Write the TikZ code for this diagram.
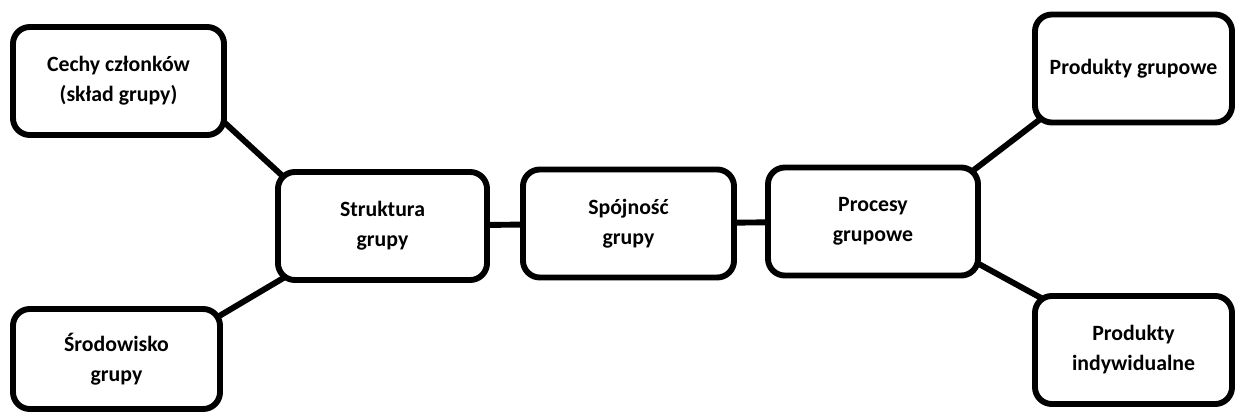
\documentclass[tikz,border=0pt]{standalone}
\usepackage{fontspec}
\setmainfont{Carlito}
\usetikzlibrary{backgrounds}
\tikzset{
    box/.style={draw, line width=4.2pt, rounded corners=12pt, fill=white, align=center,
        minimum width=5.25cm, minimum height=2.7cm,
        font=\bfseries\fontsize{15.5}{21.3}\selectfont},
    link/.style={line width=4.2pt, shorten <=-8pt, shorten >=-8pt}
}
\begin{document}
\begin{tikzpicture}[x=0.025cm, y=-0.025cm]
    \useasboundingbox (0,0) rectangle (1236,414);
    % lewa strona
        \node[box, minimum width=5.275cm] (cechy) at (118.5,81) {Cechy członków\\(skład grupy)};
        \node[box, minimum width=5.175cm, minimum height=2.5cm] (srod) at (116.5,359) {Środowisko\\grupy};
    % srodek
        \node[box, minimum width=5.225cm] (strukt) at (382.5,226) {Struktura\\grupy};
        \node[box, minimum width=5.275cm] (spoj) at (628.5,223.5) {Spójność\\grupy};
        \node[box] (proc) at (873,221.5) {Procesy\\grupowe};
    % prawa strona
        \node[box, minimum width=4.925cm] (prodg) at (1133.5,68.5) {Produkty grupowe};
        \node[box, minimum width=4.925cm] (prodi) at (1133.5,350) {Produkty\\indywidualne};
    \begin{scope}[on background layer]
        \draw[link] (cechy.-22) -- (strukt.north west);
        \draw[link] (srod.23) -- (strukt.south west);
        \draw[link] (strukt) -- (spoj);
        \draw[link] (spoj) -- (proc);
        \draw[link] (proc.north east) -- (prodg.south west);
        \draw[link] (proc.-22) -- (prodi.north west);
    \end{scope}
\end{tikzpicture}
\end{document}
